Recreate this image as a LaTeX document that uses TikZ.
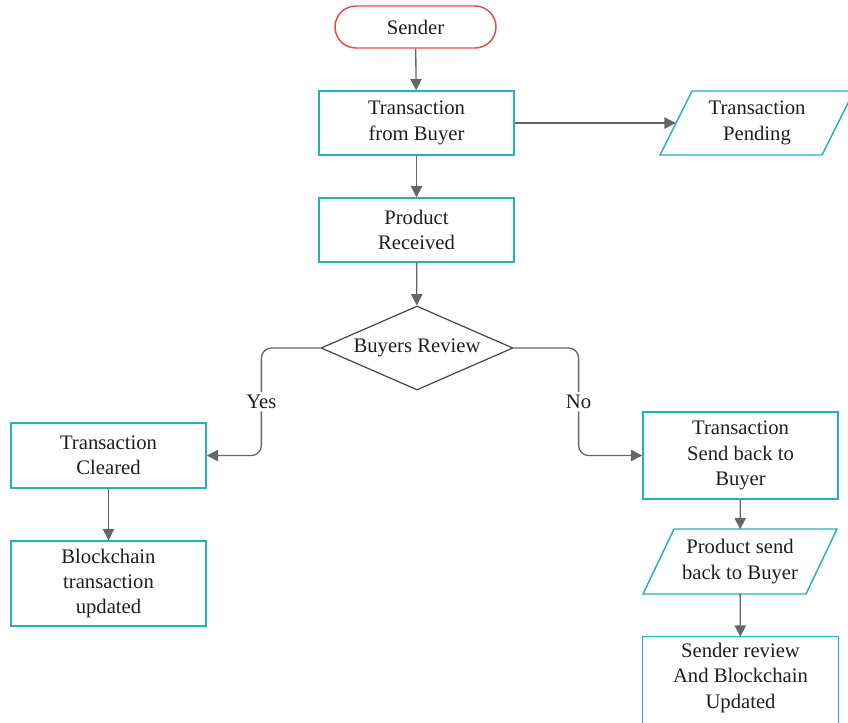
\documentclass[tikz,border=0pt]{standalone}
\usepackage{fontspec}
\setmainfont{Liberation Serif}
\usetikzlibrary{shapes.geometric,arrows.meta,calc}
\definecolor{tealc}{HTML}{22B5AD}
\definecolor{redc}{HTML}{E8494A}
\definecolor{arrc}{HTML}{666666}
\definecolor{txtc}{HTML}{1E1E1E}
\definecolor{diac}{HTML}{454545}
\begin{document}
\begin{tikzpicture}[x=0.75pt,y=-0.75pt,
  font=\fontsize{15.5}{19}\selectfont,
  every node/.style={text=txtc},
  box/.style={draw=tealc, line width=1.1pt, minimum width=146.25pt, minimum height=48pt, align=center, inner sep=0pt},
  plainbox/.style={minimum width=121.5pt, minimum height=48pt, align=center, inner sep=0pt},
  para/.style={draw=tealc, line width=1.1pt},
  startbox/.style={draw=redc, line width=1.1pt, rounded corners=15.75pt, minimum width=120.75pt, minimum height=31.5pt, inner sep=0pt},
  decision/.style={diamond, aspect=2.2, draw=diac, line width=0.9pt, minimum width=144pt, minimum height=63pt, inner sep=0pt},
  arr/.style={draw=arrc, line width=1pt, -{Triangle[length=8.5pt,width=8.5pt]}},
  lbl/.style={fill=white, inner sep=2pt}
]
\useasboundingbox (0,0) rectangle (848,722);

\node[startbox] (sender) at (415.5,27) {Sender};
\node[box] (tfb) at (416.5,123) {Transaction\\from Buyer};
\node[plainbox] (tp) at (757,123) {Transaction\\Pending};
\draw[para] ($(tp.center)+(-65,-32)$) -- ($(tp.center)+(97,-32)$) -- ($(tp.center)+(65,32)$) -- ($(tp.center)+(-97,32)$) -- cycle;
\node[box] (pr) at (416.5,230) {Product\\Received};
\node[decision] (br) at (417,348) {Buyers Review};
\node[box, minimum height=48.75pt] (tc) at (108.5,455.5) {Transaction\\Cleared};
\node[box, minimum height=63.75pt] (bu) at (108.5,583.5) {Blockchain\\transaction\\updated};
\node[box, minimum height=65.25pt] (tsb) at (740.5,455.5) {Transaction\\Send back to\\Buyer};
\node[plainbox, minimum width=122.25pt] (psb) at (740,561.5) {Product send\\back to Buyer};
\draw[para] ($(psb.center)+(-66,-32.5)$) -- ($(psb.center)+(97,-32.5)$) -- ($(psb.center)+(66,32.5)$) -- ($(psb.center)+(-97,32.5)$) -- cycle;
\node[minimum width=146.25pt, minimum height=61.5pt, align=center, inner sep=0pt] (sr) at (740.5,678) {Sender review\\And Blockchain\\Updated};
\draw[para] ($(sr.south west)+(0,30)$) -- (sr.north west) -- (sr.north east) -- ($(sr.south east)+(0,30)$);

\draw[arr] (sender) -- (tfb);
\draw[arr] (tfb) -- (pr);
\draw[arr] (tfb.east) -- (tp.west);
\draw[arr] (pr) -- (br);
\draw[arr, rounded corners=7.5pt] (br.west) -- ++(-59,0) |- (tc.east) node[pos=0.25, lbl] {Yes};
\draw[arr, rounded corners=7.5pt] (br.east) -- ++(65,0) |- (tsb.west) node[pos=0.25, lbl] {No};
\draw[arr] (tc) -- (bu);
\draw[arr] (tsb) -- (psb);
\draw[arr] (psb) -- (sr);
\end{tikzpicture}
\end{document}
